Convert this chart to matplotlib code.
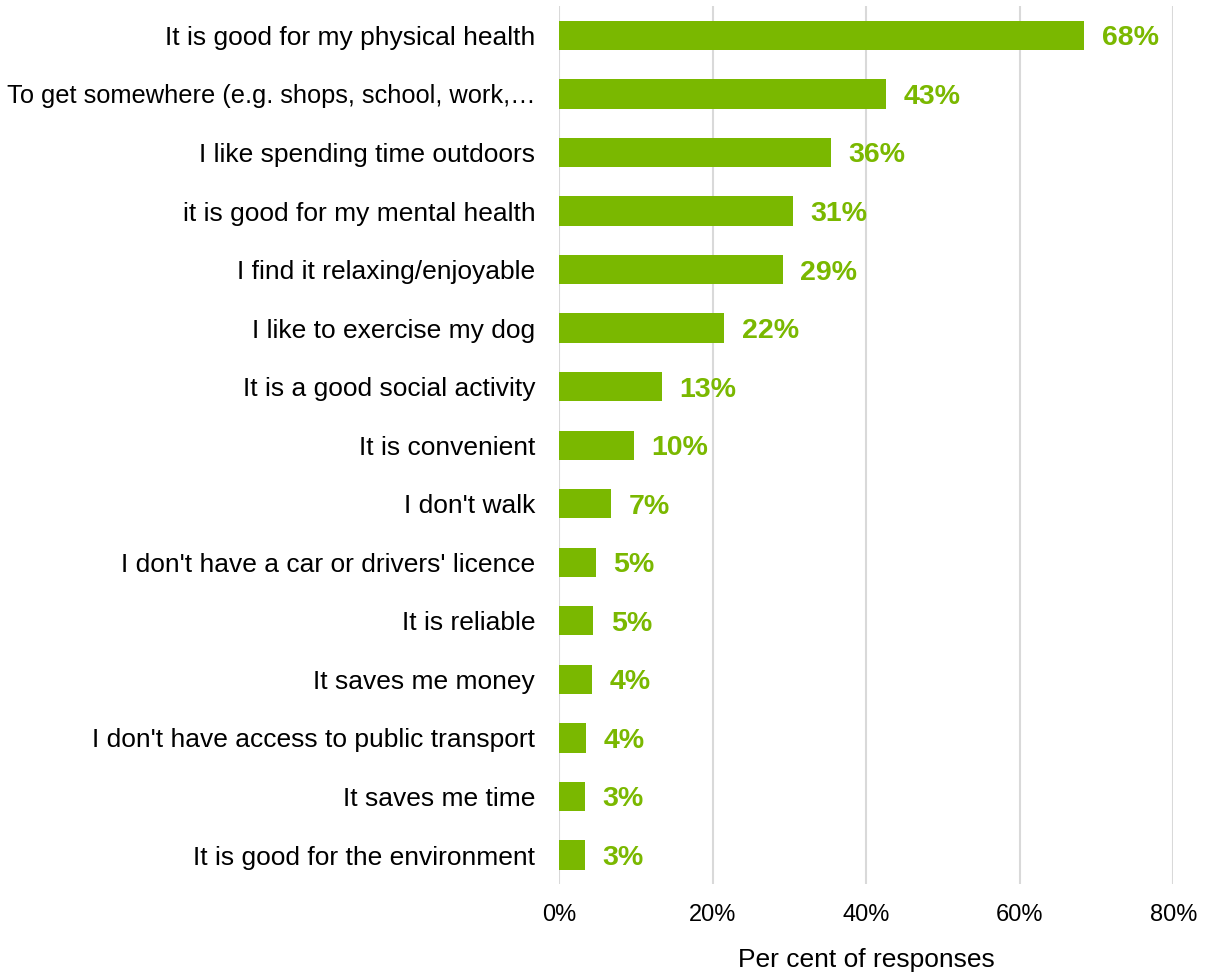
import numpy as np
import matplotlib.pyplot as plt

plt.rcParams['font.family'] = ['Liberation Sans', 'DejaVu Sans']

reasons = [
    'It is good for my physical health',
    'To get somewhere (e.g. shops, school, work,\u2026',
    'I like spending time outdoors',
    'it is good for my mental health',
    'I find it relaxing/enjoyable',
    'I like to exercise my dog',
    'It is a good social activity',
    'It is convenient',
    "I don't walk",
    "I don't have a car or drivers' licence",
    'It is reliable',
    'It saves me money',
    "I don't have access to public transport",
    'It saves me time',
    'It is good for the environment',
]
values = [68.4, 42.5, 35.4, 30.4, 29.1, 21.5, 13.3, 9.7, 6.7, 4.7, 4.4, 4.2, 3.5, 3.3, 3.3]
labels = ['68%', '43%', '36%', '31%', '29%', '22%', '13%', '10%', '7%', '5%',
          '5%', '4%', '4%', '3%', '3%']
xticks = [0, 20, 40, 60, 80]

green = '#7ab800'

fig = plt.figure(figsize=(12.05, 9.77), dpi=100)
ax = fig.add_axes([0.4643, 0.0949, 0.5095, 0.8988])

y = np.arange(len(reasons))
ax.barh(y, values, height=0.5, color=green, zorder=3)
for yi, v, lab in zip(y, values, labels):
    ax.text(v + 2.3, yi + 0.05, lab, va='center', ha='left', color=green,
            fontsize=20.5, fontweight='bold')

ax.set_ylim(len(reasons) - 0.5, -0.5)
ax.set_xlim(0, 80)
ax.set_yticks(y)
ax.set_yticklabels(reasons, fontsize=19)
# the truncated label is a touch wider in this font than in the original
ax.get_yticklabels()[1].set_fontsize(18.3)
ax.set_xticks(xticks)
ax.set_xticklabels([f'{t}%' for t in xticks], fontsize=17)
ax.tick_params(axis='y', length=0, pad=17.5)
ax.tick_params(axis='x', length=0, pad=14.5)
ax.grid(axis='x', color='#d9d9d9', linewidth=1.5, zorder=0)
for s in ax.spines.values():
    s.set_visible(False)
ax.set_xlabel('Per cent of responses', fontsize=19, labelpad=15.5)

fig.savefig('out.png', dpi=100)
